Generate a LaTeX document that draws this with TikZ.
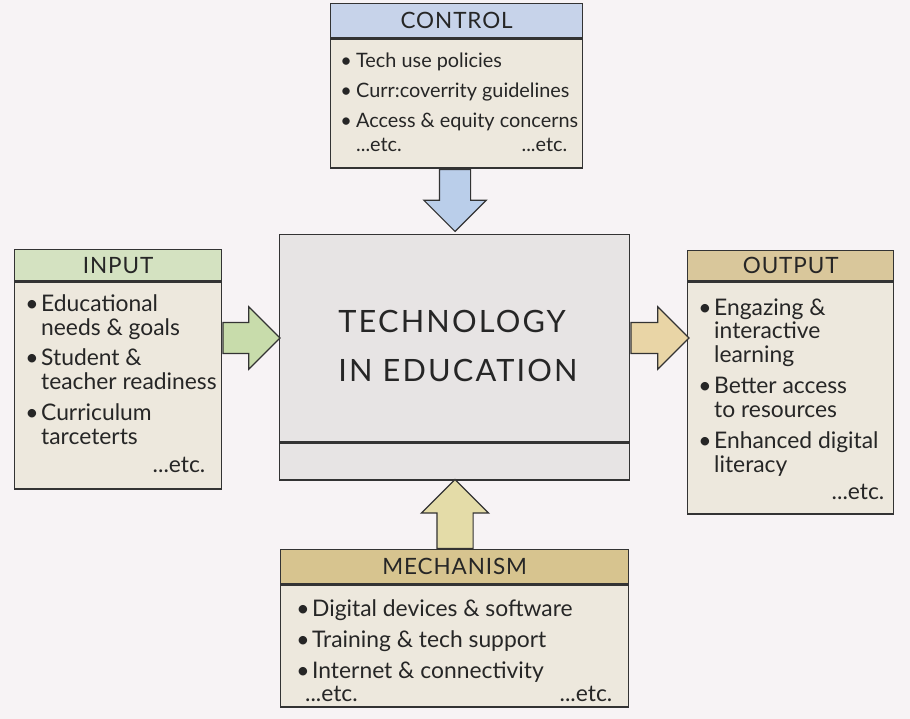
\documentclass[tikz,border=0pt]{standalone}
\usepackage{fontspec}
\setmainfont{Lato}
\usetikzlibrary{shapes.arrows, positioning}

\definecolor{bgcol}{HTML}{F7F3F5}
\definecolor{linecol}{HTML}{333333}
\definecolor{txtcol}{HTML}{262626}
\definecolor{bodycol}{HTML}{EDE8DD}
\definecolor{midcol}{HTML}{E7E4E4}
\definecolor{ctrlhead}{HTML}{C7D3EA}
\definecolor{ctrlarrow}{HTML}{BACEEA}
\definecolor{inhead}{HTML}{D4E2C1}
\definecolor{inarrow}{HTML}{C8DCAB}
\definecolor{outhead}{HTML}{D9C79B}
\definecolor{outarrow}{HTML}{E9D5A6}
\definecolor{mechhead}{HTML}{D7C48F}
\definecolor{mecharrow}{HTML}{E4DCA8}

\newcommand{\bl}{\makebox[9pt][l]{\textbullet}}
\newcommand{\ind}{\hspace*{9pt}}

\begin{document}
\begin{tikzpicture}[
    x=0.02cm, y=-0.02cm,       % one unit = one pixel of the reference
    box/.style={draw=linecol, line width=0.8pt, fill=bodycol, anchor=north west, inner sep=0pt},
    head/.style={box, text=txtcol, font=\fontsize{12.8}{14}\selectfont\addfontfeature{LetterSpace=4}},
    txt/.style={anchor=north west, inner sep=0pt, align=left, text=txtcol, font=\fontsize{13}{13.6}\selectfont},
    fat/.style={single arrow, draw=linecol, line width=0.7pt, anchor=tail,
                single arrow head extend=0.31cm, inner ysep=0.3cm, inner xsep=0pt,
                text width=0pt, text height=0pt, text depth=0pt},
    fatv/.style={fat, inner xsep=#1, inner ysep=0pt}
  ]

  % --- fundo ---
  \fill[bgcol] (0,0) rectangle (910,719);

  % --- caixa central ---
  \node[box, fill=midcol, minimum width=7cm, minimum height=4.14cm] (center) at (279,234) {};
  \node[box, fill=midcol, minimum width=7cm, minimum height=0.74cm, anchor=north] (centerbase) at (center.south) {};
  \node[anchor=west, inner sep=0pt, align=left, text=txtcol,
        font=\fontsize{17.5}{27.8}\selectfont\addfontfeature{LetterSpace=7}] (title) at (338,346) {TECHNOLOGY\\IN EDUCATION};

  % --- CONTROL ---
  \node[head, fill=ctrlhead, minimum width=5.04cm, minimum height=0.68cm] (ctrltop) at (330,3) {CONTROL};
  \node[box, minimum width=5.04cm, minimum height=2.58cm, anchor=north] (ctrlbody) at (ctrltop.south) {};
  \node[txt, font=\fontsize{11.3}{13}\selectfont] (ctrltext) at (340,53) {%
    \bl Tech use policies\\[4pt]
    \bl Curr:coverrity guidelines\\[4pt]
    \bl Access \& equity concerns\\[0.5pt]
    \makebox[4.54cm][l]{\ind...etc.\hfill...etc.}};

  % --- INPUT ---
  \node[head, fill=inhead, minimum width=4.14cm, minimum height=0.62cm] (intop) at (14,249) {INPUT};
  \node[box, minimum width=4.14cm, minimum height=4.14cm, anchor=north] (inbody) at (intop.south) {};
  \node[txt] (intext) at (25,294) {%
    \bl Educational\\
    \ind needs \& goals\\[4pt]
    \bl Student \&\\
    \ind teacher readiness\\[4pt]
    \bl Curriculum\\
    \ind tarceterts\\[2pt]
    \makebox[3.6cm][r]{...etc.}};

  % --- OUTPUT ---
  \node[head, fill=outhead, minimum width=4.12cm, minimum height=0.6cm] (outtop) at (687,250) {OUTPUT};
  \node[box, minimum width=4.12cm, minimum height=4.64cm, anchor=north] (outbody) at (outtop.south) {};
  \node[txt] (outtext) at (698,298) {%
    \bl Engazing \&\\
    \ind interactive\\
    \ind learning\\[4pt]
    \bl Better access\\
    \ind to resources\\[4pt]
    \bl Enhanced digital\\
    \ind literacy\\[2pt]
    \makebox[3.72cm][r]{...etc.}};

  % --- MECHANISM ---
  \node[head, fill=mechhead, minimum width=6.96cm, minimum height=0.68cm] (mechtop) at (280,549) {MECHANISM};
  \node[box, minimum width=6.96cm, minimum height=2.44cm, anchor=north] (mechbody) at (mechtop.south) {};
  \node[txt] (mechtext) at (296,599) {%
    \bl Digital devices \& software\\[4pt]
    \bl Training \& tech support\\[4pt]
    \bl Internet \& connectivity\\
    \makebox[6.32cm][l]{\hspace*{5pt}...etc.\hfill...etc.}};

  % --- SETAS ---
  \node[fatv=0.3cm, fill=ctrlarrow, minimum height=1.24cm, shape border rotate=270] (ctrlarrow) at (ctrlbody.south -| 455,0) {};
  \node[fat, fill=inarrow, minimum height=1.14cm] (inarrow) at (inbody.east |- 0,338) {};
  \node[fat, fill=outarrow, minimum height=1.16cm] (outarrow) at (center.east |- 0,338) {};
  \node[fatv=0.35cm, fill=mecharrow, minimum height=1.38cm, shape border rotate=90] (mecharrow) at (mechtop.north -| 455,0) {};

\end{tikzpicture}
\end{document}
